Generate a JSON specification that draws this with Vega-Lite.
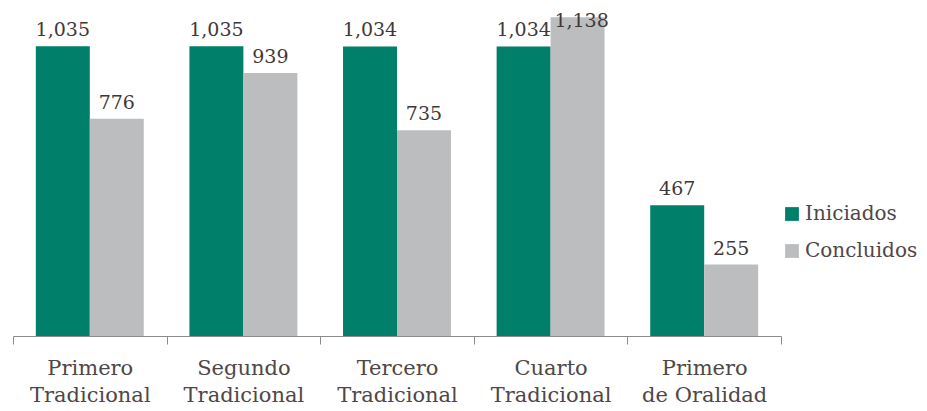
{
  "$schema": "https://vega.github.io/schema/vega-lite/v6.json",
  "width": 768,
  "height": 336,
  "autosize": "none",
  "padding": {"left": 13, "top": 0, "right": 146, "bottom": 75},
  "background": "white",
  "config": {"view": {"stroke": null}, "font": "DejaVu Serif"},
  "data": {
    "values": [
      {"tribunal": "Primero Tradicional", "estado": "Iniciados", "asuntos": 1035},
      {"tribunal": "Primero Tradicional", "estado": "Concluidos", "asuntos": 776},
      {"tribunal": "Segundo Tradicional", "estado": "Iniciados", "asuntos": 1035},
      {"tribunal": "Segundo Tradicional", "estado": "Concluidos", "asuntos": 939},
      {"tribunal": "Tercero Tradicional", "estado": "Iniciados", "asuntos": 1034},
      {"tribunal": "Tercero Tradicional", "estado": "Concluidos", "asuntos": 735},
      {"tribunal": "Cuarto Tradicional", "estado": "Iniciados", "asuntos": 1034},
      {"tribunal": "Cuarto Tradicional", "estado": "Concluidos", "asuntos": 1138},
      {"tribunal": "Primero de Oralidad", "estado": "Iniciados", "asuntos": 467},
      {"tribunal": "Primero de Oralidad", "estado": "Concluidos", "asuntos": 255}
    ]
  },
  "encoding": {
    "x": {
      "field": "tribunal",
      "type": "nominal",
      "sort": null,
      "scale": {"paddingInner": 0, "paddingOuter": 0},
      "axis": {
        "title": null,
        "labelAngle": 0,
        "labelFont": "DejaVu Serif",
        "labelFontSize": 21,
        "labelColor": "#4f4747",
        "labelLineHeight": 27,
        "labelPadding": 13,
        "labelExpr": "datum.label == 'Primero de Oralidad' ? ['Primero', 'de Oralidad'] : split(datum.label, ' ')",
        "tickBand": "extent",
        "tickSize": 8,
        "tickColor": "#8c8c8c",
        "domainColor": "#8c8c8c",
        "labelLimit": 0
      }
    },
    "xOffset": {
      "field": "estado",
      "type": "nominal",
      "sort": ["Iniciados", "Concluidos"],
      "scale": {"paddingInner": 0, "paddingOuter": 0.423}
    },
    "y": {
      "field": "asuntos",
      "type": "quantitative",
      "scale": {"domain": [0, 1200]},
      "axis": null
    }
  },
  "layer": [
    {
      "mark": {"type": "bar"},
      "encoding": {
        "color": {
          "field": "estado",
          "type": "nominal",
          "sort": ["Iniciados", "Concluidos"],
          "scale": {"domain": ["Iniciados", "Concluidos"], "range": ["#007f6a", "#bcbdbf"]},
          "legend": {
            "title": null,
            "orient": "none",
            "legendX": 769,
            "legendY": 204,
            "symbolType": "square",
            "symbolSize": 190,
            "symbolStrokeWidth": 0,
            "labelFont": "DejaVu Serif",
            "labelFontSize": 20,
            "labelColor": "#4f4747",
            "labelOffset": 3,
            "rowPadding": 17
          }
        }
      }
    },
    {
      "transform": [{"filter": "datum.asuntos < 1100"}],
      "mark": {"type": "text", "baseline": "alphabetic", "dy": -10, "font": "DejaVu Serif", "fontSize": 19, "color": "#3f3838"},
      "encoding": {
        "text": {"field": "asuntos", "type": "quantitative", "format": ",d"}
      }
    },
    {
      "transform": [{"filter": "datum.asuntos >= 1100"}],
      "mark": {"type": "text", "baseline": "alphabetic", "dy": 10, "dx": 4, "font": "DejaVu Serif", "fontSize": 19, "color": "#3f3838"},
      "encoding": {
        "text": {"field": "asuntos", "type": "quantitative", "format": ",d"}
      }
    }
  ]
}
